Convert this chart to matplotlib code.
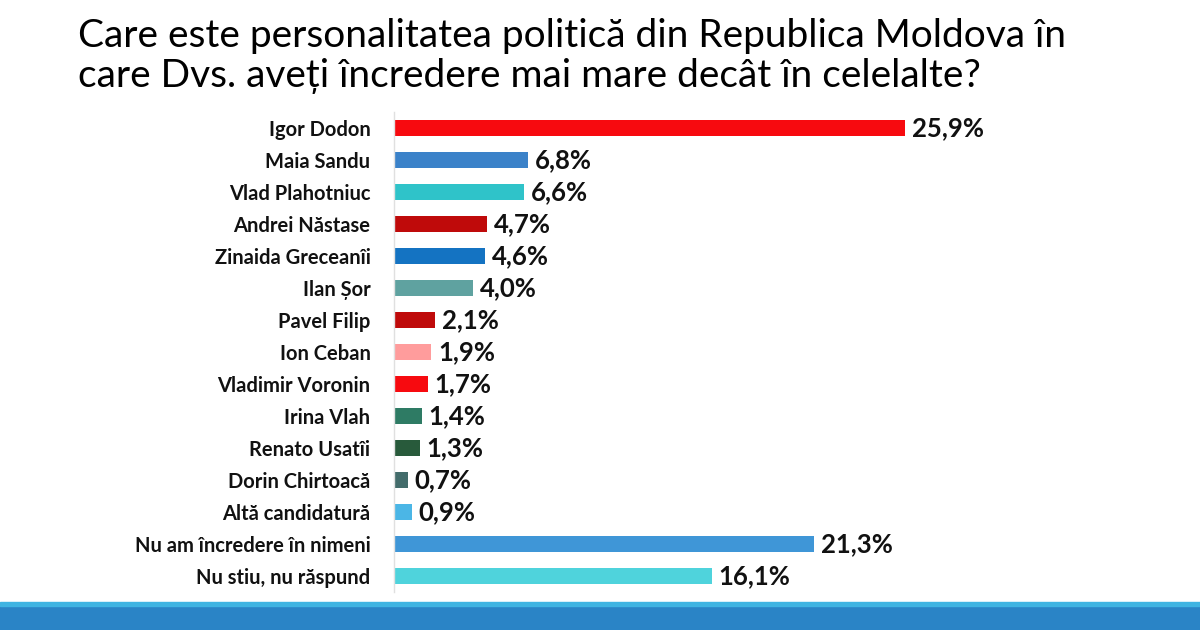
import matplotlib.pyplot as plt
from matplotlib.patches import Rectangle

plt.rcParams['font.family'] = ['Lato', 'DejaVu Sans']

# data
names = ['Igor Dodon', 'Maia Sandu', 'Vlad Plahotniuc', 'Andrei Năstase',
         'Zinaida Greceanîi', 'Ilan Șor', 'Pavel Filip', 'Ion Ceban',
         'Vladimir Voronin', 'Irina Vlah', 'Renato Usatîi', 'Dorin Chirtoacă',
         'Altă candidatură', 'Nu am încredere în nimeni', 'Nu stiu, nu răspund']
values = [25.9, 6.8, 6.6, 4.7, 4.6, 4.0, 2.1, 1.9, 1.7, 1.4, 1.3, 0.7, 0.9, 21.3, 16.1]
colors = ['#f70a0f', '#3b82c9', '#2fc3c9', '#bf0a0a', '#1473c2', '#5fa2a0',
          '#bf0a0a', '#ff9c9c', '#f70a0f', '#2e7b64', '#285a3b', '#436c6b',
          '#4bb6e6', '#3f96d7', '#4fd3dc']
title_lines = ['Care este personalitatea politică din Republica Moldova în',
               'care Dvs. aveți încredere mai mare decât în celelalte?']

W, H = 1200, 630
fig = plt.figure(figsize=(12, 6.3), dpi=100)
fig.patch.set_facecolor('white')

# title
for line, base in zip(title_lines, [47, 87]):
    fig.text(78 / W, 1 - base / H, line, ha='left', va='baseline',
             fontsize=28, color='black')

# bars
left = 394
ax = fig.add_axes([left / W, (630 - 592) / H, (1000 - left) / W, 480 / H])
px_per_pct = (905 - left) / 25.9
ax.set_xlim(0, (1000 - left) / px_per_pct)
ax.set_ylim(len(names) - 0.5, -0.5)
ypos = list(range(len(names)))
ax.barh(ypos, values, height=0.5, color=colors)
for y, v in zip(ypos, values):
    ax.text(v + 7 / px_per_pct, y, f'{v:.1f}%'.replace('.', ','),
            va='center', ha='left', fontsize=18.5, fontweight='bold',
            color='#111111')
ax.set_yticks(ypos)
ax.set_yticklabels(names, fontsize=14.5, fontweight='bold', color='#111111')
ax.tick_params(axis='y', length=0, pad=17)
ax.set_xticks([])
for s in ['top', 'right', 'bottom']:
    ax.spines[s].set_visible(False)
ax.spines['left'].set_color('#e0e0e0')
ax.spines['left'].set_linewidth(1)

# bottom band
fig.patches.append(Rectangle((0, 0), 1, 27 / H, transform=fig.transFigure,
                             color='#2a84c6', zorder=0))
fig.patches.append(Rectangle((0, 24 / H), 1, 4 / H, transform=fig.transFigure,
                             color='#3fb4e2', zorder=1))

fig.savefig('out.png', dpi=100)
